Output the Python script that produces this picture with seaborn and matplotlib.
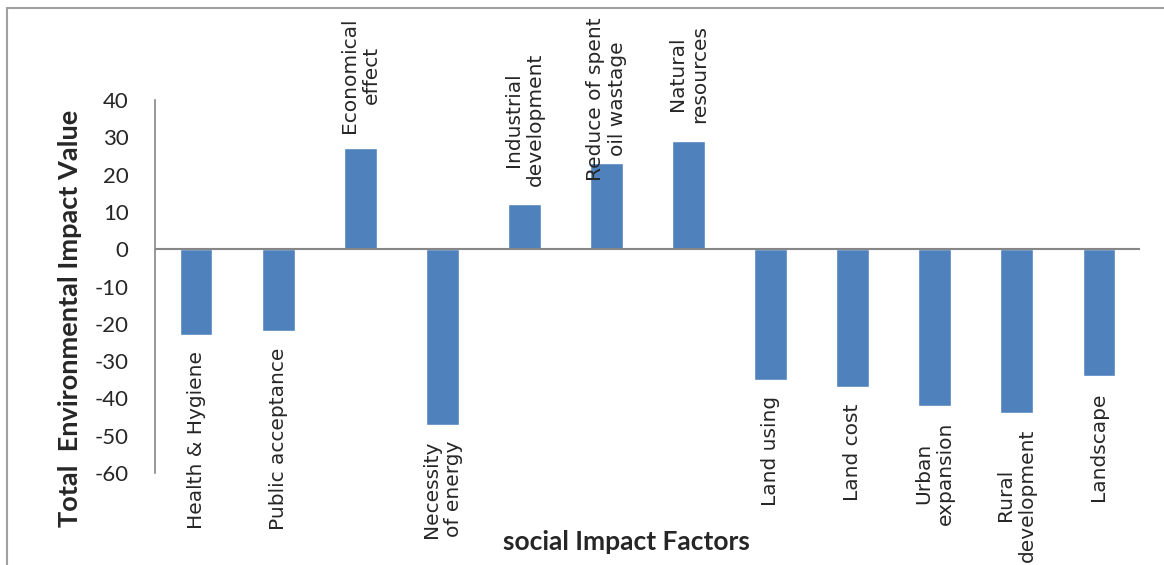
import numpy as np
import pandas as pd
import matplotlib
matplotlib.use("Agg")
import matplotlib.pyplot as plt
import seaborn as sns

# data
factors = ["Health & Hygiene", "Public acceptance", "Economical\neffect",
           "Necessity\nof energy", "Industrial\ndevelopment",
           "Reduce of spent\noil wastage", "Natural\nresources", "Land using",
           "Land cost", "Urban\nexpansion", "Rural\ndevelopment", "Landscape"]
impact = [-23, -22, 27, -47, 12, 23, 29, -35, -37, -42, -44, -34]
yticks = [40, 30, 20, 10, 0, -10, -20, -30, -40, -50, -60]

BAR_COLOR = "#4F81BD"
AXIS_GRAY = "#868686"

sns.set_style("white")
plt.rcParams["font.family"] = ["Lato", "DejaVu Sans"]

df = pd.DataFrame({"factor": factors, "impact": impact})

fig = plt.figure(figsize=(11.64, 5.65), dpi=100)
ax = fig.add_axes([155 / 1164, 92 / 565, (1140 - 155) / 1164, 373 / 565])

sns.barplot(data=df, x="factor", y="impact", color=BAR_COLOR, saturation=1,
            width=0.4, ax=ax)

ax.set_ylim(-60, 40)
ax.set_xlim(-0.5, len(factors) - 0.5)
ax.set_yticks(yticks)
ax.set_yticklabels([str(t) for t in yticks], fontsize=16)
ax.tick_params(axis="y", direction="out", length=7, width=1.2, color=AXIS_GRAY,
               pad=12)
ax.set_xticks([])
ax.set_xlabel("")
ax.set_ylabel("")

for s in ["top", "right", "bottom"]:
    ax.spines[s].set_visible(False)
ax.spines["left"].set_color(AXIS_GRAY)
ax.spines["left"].set_linewidth(1.2)
ax.axhline(0, color=AXIS_GRAY, lw=1.5, zorder=3)

# category labels sit at the bar ends, rotated
labels = []
for i, (name, v) in enumerate(zip(factors, impact)):
    off = 18 if v > 0 else -16
    t = ax.annotate(name, xy=(i, v), xytext=(0, off), textcoords="offset pixels",
                    rotation=90, ha="center", va="bottom" if v > 0 else "top",
                    multialignment="center", fontsize=14.5, linespacing=1.2,
                    family="DejaVu Sans", annotation_clip=False)
    labels.append((t, off))

fig.text(70 / 1164, 1 - 318 / 565, "Total  Environmental Impact Value",
         rotation=90, ha="center", va="center", fontsize=19.5, fontweight="bold")
fig.text(626 / 1164, 1 - 542 / 565, "social Impact Factors", ha="center",
         va="center", fontsize=19, fontweight="bold")

# keep the labels inside the chart area
fig.canvas.draw()
top_limit = 565 - 17
for t, off in labels:
    bb = t.get_window_extent()
    if bb.y1 > top_limit:
        t.xyann = (0, off - (bb.y1 - top_limit))
    elif bb.y0 < 3:
        t.xyann = (0, off + (3 - bb.y0))

# chart area frame (only top and left visible in the crop)
fig.add_artist(plt.Line2D([7 / 1164, 1], [1 - 8 / 565, 1 - 8 / 565],
                          color="#A0A0A0", lw=1.5))
fig.add_artist(plt.Line2D([7 / 1164, 7 / 1164], [0, 1 - 8 / 565],
                          color="#A0A0A0", lw=1.5))

fig.savefig("out.png", dpi=100)
